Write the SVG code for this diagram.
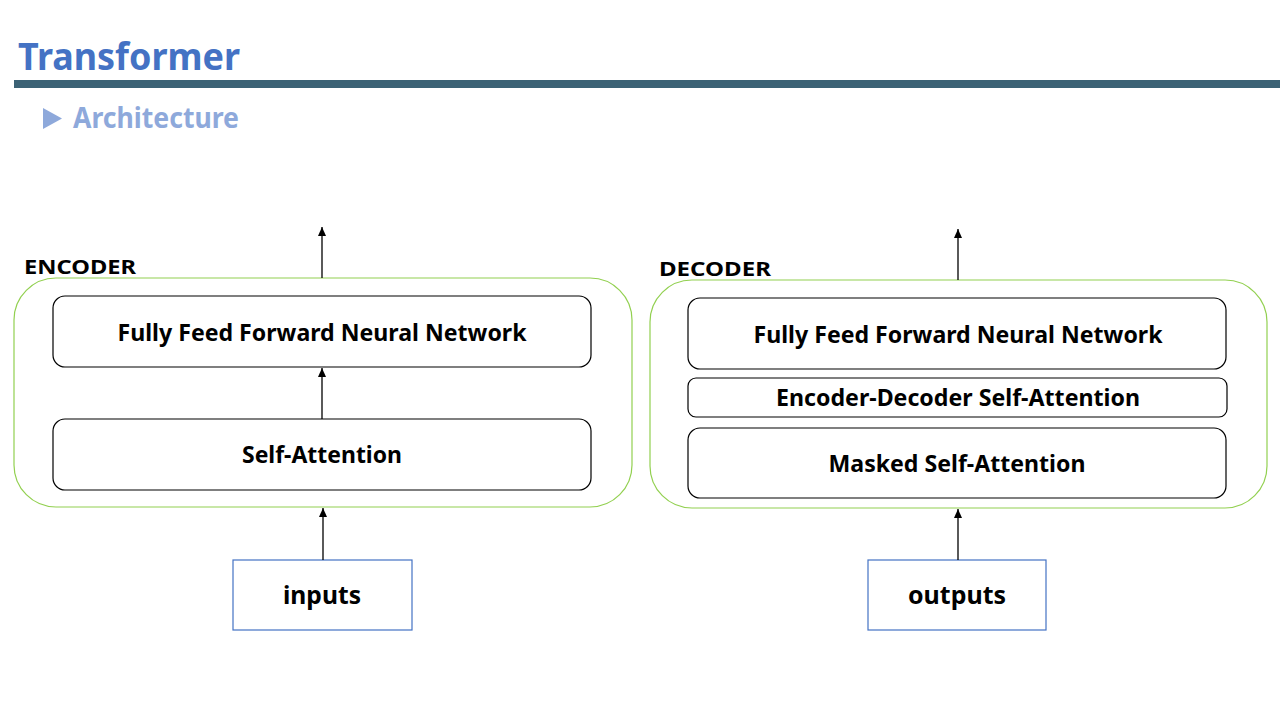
<svg xmlns="http://www.w3.org/2000/svg" width="1280" height="720" viewBox="0 0 1280 720">
<style>
.title{font-family:"Noto Sans","Open Sans",sans-serif;font-weight:bold;}
.outer{fill:none;stroke:#92D050;stroke-width:1.2;}
.box{fill:#fff;stroke:#000;stroke-width:1.2;}
.io{fill:#fff;stroke:#4472C4;stroke-width:1.2;}
.lbl{font-family:"Noto Sans","Open Sans",sans-serif;font-weight:bold;fill:#000;text-anchor:middle;}
.sec{font-family:"Noto Sans","Open Sans",sans-serif;font-weight:bold;fill:#000;font-size:20px;}
.conn line{stroke:#000;stroke-width:1.3;marker-end:url(#ah);}
</style>
<defs>
<marker id="ah" markerWidth="9" markerHeight="8" refX="9" refY="4" orient="auto" markerUnits="userSpaceOnUse" viewBox="0 0 9 8">
<path d="M0,0 L9,4 L0,8 Z" fill="#000"/>
</marker>
</defs>
<rect width="1280" height="720" fill="#fff"/>
<g id="header">
<text class="title" x="18" y="70" font-size="37" fill="#4472C4" textLength="222" lengthAdjust="spacingAndGlyphs">Transformer</text>
<rect x="14" y="80" width="1266" height="8" fill="#3C6275"/>
<polygon points="43,108 43,129 62,118.5" fill="#8EA9DB"/>
<text class="title" x="73" y="128" font-size="28" fill="#8EA9DB" textLength="166" lengthAdjust="spacingAndGlyphs">Architecture</text>
</g>
<g id="encoder">
<rect class="outer" x="14" y="278" width="618" height="229" rx="42"/>
<text class="sec" x="24" y="274" font-size="21" textLength="112" lengthAdjust="spacingAndGlyphs">ENCODER</text>
</g>
<g id="enc-ffn">
<rect class="box" x="53" y="296" width="538" height="71" rx="12"/>
<text class="lbl" x="322" y="341" font-size="23" textLength="409" lengthAdjust="spacingAndGlyphs">Fully Feed Forward Neural Network</text>
</g>
<g id="enc-sa">
<rect class="box" x="53" y="419" width="538" height="71" rx="12"/>
<text class="lbl" x="322" y="463" font-size="23" textLength="160" lengthAdjust="spacingAndGlyphs">Self-Attention</text>
</g>
<g id="inputs">
<rect class="io" x="233" y="560" width="179" height="70"/>
<text class="lbl" x="322" y="604" font-size="25" textLength="78" lengthAdjust="spacingAndGlyphs">inputs</text>
</g>
<g id="decoder">
<rect class="outer" x="650" y="280" width="617" height="228" rx="42"/>
<text class="sec" x="659" y="276" font-size="21" textLength="112" lengthAdjust="spacingAndGlyphs">DECODER</text>
</g>
<g id="dec-ffn">
<rect class="box" x="688" y="298" width="538" height="71" rx="12"/>
<text class="lbl" x="958" y="343" font-size="23" textLength="409" lengthAdjust="spacingAndGlyphs">Fully Feed Forward Neural Network</text>
</g>
<g id="dec-eda">
<rect class="box" x="688" y="378" width="539" height="39" rx="8"/>
<text class="lbl" x="958" y="406" font-size="23" textLength="364" lengthAdjust="spacingAndGlyphs">Encoder-Decoder Self-Attention</text>
</g>
<g id="dec-msa">
<rect class="box" x="688" y="428" width="538" height="70" rx="12"/>
<text class="lbl" x="957" y="472" font-size="23" textLength="257" lengthAdjust="spacingAndGlyphs">Masked Self-Attention</text>
</g>
<g id="outputs">
<rect class="io" x="868" y="560" width="178" height="70"/>
<text class="lbl" x="957" y="604" font-size="25" textLength="98" lengthAdjust="spacingAndGlyphs">outputs</text>
</g>
<g class="conn" id="connectors">
<line x1="322" y1="278" x2="322" y2="227"/>
<line x1="322" y1="419" x2="322" y2="368"/>
<line x1="323" y1="560" x2="323" y2="508"/>
<line x1="958" y1="280" x2="958" y2="229"/>
<line x1="958" y1="560" x2="958" y2="509"/>
</g>
</svg>
